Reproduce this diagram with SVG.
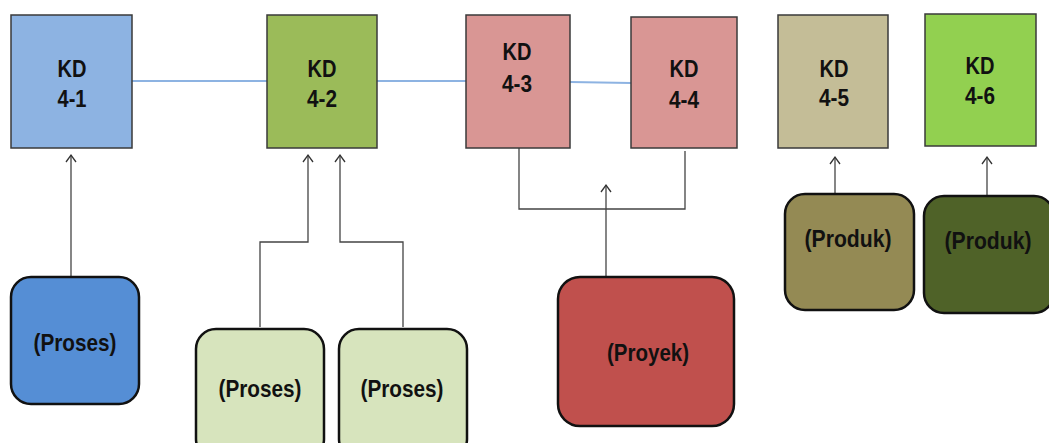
<svg xmlns="http://www.w3.org/2000/svg" width="1049" height="443" viewBox="0 0 1049 443">
<style>
.kd{stroke:#3a3a3a;stroke-width:1.5}
.rb{stroke:#111;stroke-width:2.5}
text{font-family:"Liberation Sans",Arial,sans-serif;font-weight:bold;font-size:24px;text-anchor:middle;fill:#111}
.blue{stroke:#8DB3E2;stroke-width:2;fill:none}
.con{stroke:#444;stroke-width:1.3;fill:none}
</style>
<defs>
<marker id="arr" viewBox="0 0 10 12" refX="8" refY="6" markerWidth="10" markerHeight="12" markerUnits="userSpaceOnUse" orient="auto">
<path d="M1,1 L8,6 L1,11" fill="none" stroke="#333" stroke-width="1.3"/>
</marker>
</defs>
<rect width="1049" height="443" fill="#fff"/>
<g id="connectors">
<line class="blue" x1="132" y1="81" x2="267" y2="81"/>
<line class="blue" x1="377" y1="81" x2="466" y2="81"/>
<line class="blue" x1="570" y1="82" x2="631" y2="83"/>
<path class="con" d="M71,284 V155" marker-end="url(#arr)"/>
<path class="con" d="M260,327 V242 H308 V155" marker-end="url(#arr)"/>
<path class="con" d="M403,327 V242 H340 V155" marker-end="url(#arr)"/>
<path class="con" d="M519,148 V209 H685 V151"/>
<path class="con" d="M606,302 V185" marker-end="url(#arr)"/>
<path class="con" d="M835,196 V157" marker-end="url(#arr)"/>
<path class="con" d="M987,197 V157" marker-end="url(#arr)"/>
</g>
<g id="kd41"><rect class="kd" x="11" y="15" width="121" height="133" fill="#8DB3E2"/><text x="72" y="77" textLength="29" lengthAdjust="spacingAndGlyphs">KD</text><text x="72" y="107" textLength="29" lengthAdjust="spacingAndGlyphs">4-1</text></g>
<g id="kd42"><rect class="kd" x="267" y="15" width="110" height="133" fill="#9BBB59"/><text x="322" y="77" textLength="29" lengthAdjust="spacingAndGlyphs">KD</text><text x="322" y="107" textLength="30" lengthAdjust="spacingAndGlyphs">4-2</text></g>
<g id="kd43"><rect class="kd" x="466" y="15" width="104" height="133" fill="#D99694"/><text x="517" y="60" textLength="29" lengthAdjust="spacingAndGlyphs">KD</text><text x="517" y="92" textLength="30" lengthAdjust="spacingAndGlyphs">4-3</text></g>
<g id="kd44"><rect class="kd" x="631" y="17" width="106" height="131" fill="#D99694"/><text x="684" y="77" textLength="29" lengthAdjust="spacingAndGlyphs">KD</text><text x="684" y="108" textLength="30" lengthAdjust="spacingAndGlyphs">4-4</text></g>
<g id="kd45"><rect class="kd" x="778" y="15" width="110" height="133" fill="#C4BD97"/><text x="834" y="77" textLength="29" lengthAdjust="spacingAndGlyphs">KD</text><text x="834" y="106" textLength="30" lengthAdjust="spacingAndGlyphs">4-5</text></g>
<g id="kd46"><rect class="kd" x="925" y="14" width="111" height="132" fill="#92D050"/><text x="980" y="74" textLength="29" lengthAdjust="spacingAndGlyphs">KD</text><text x="980" y="104" textLength="30" lengthAdjust="spacingAndGlyphs">4-6</text></g>
<g id="proses1"><rect class="rb" x="11" y="277" width="128" height="127" rx="20" fill="#558ED5"/><text x="75" y="351" textLength="83" lengthAdjust="spacingAndGlyphs">(Proses)</text></g>
<g id="proses2"><rect class="rb" x="196" y="329" width="128" height="130" rx="20" fill="#D7E4BD"/><text x="260" y="397" textLength="83" lengthAdjust="spacingAndGlyphs">(Proses)</text></g>
<g id="proses3"><rect class="rb" x="339" y="329" width="128" height="130" rx="20" fill="#D7E4BD"/><text x="402" y="397" textLength="83" lengthAdjust="spacingAndGlyphs">(Proses)</text></g>
<g id="proyek"><rect class="rb" x="558" y="277" width="176" height="149" rx="22" fill="#C0504D"/><text x="648" y="361" textLength="82" lengthAdjust="spacingAndGlyphs">(Proyek)</text></g>
<g id="produk1"><rect class="rb" x="785" y="194" width="129" height="116" rx="20" fill="#948A54"/><text x="848" y="247" textLength="87" lengthAdjust="spacingAndGlyphs">(Produk)</text></g>
<g id="produk2"><rect class="rb" x="924" y="196" width="130" height="117" rx="20" fill="#4F6228"/><text x="988" y="249" textLength="87" lengthAdjust="spacingAndGlyphs">(Produk)</text></g>
</svg>
